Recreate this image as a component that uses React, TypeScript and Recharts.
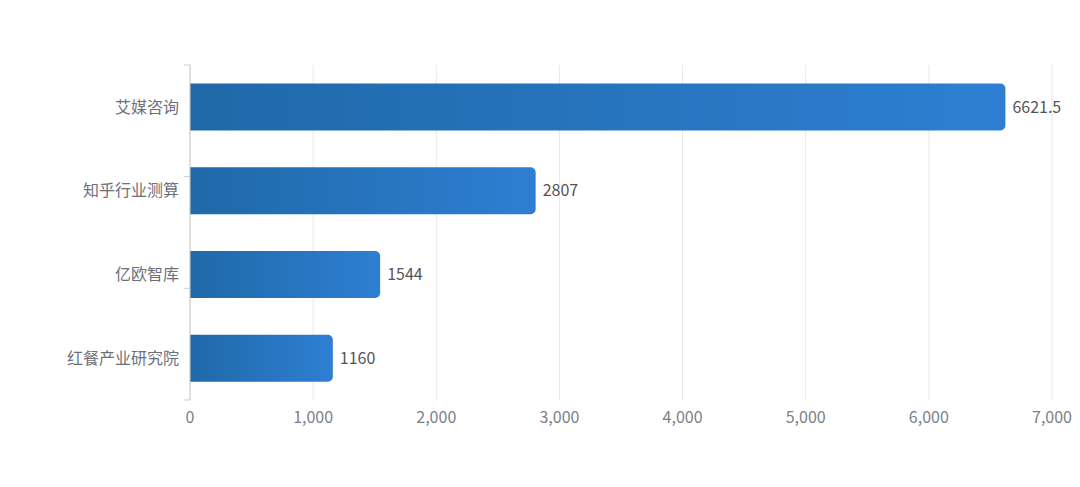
import React from 'react';
import { BarChart, Bar, XAxis, YAxis, CartesianGrid, LabelList } from 'recharts';

const categories = ['艾媒咨询', '知乎行业测算', '亿欧智库', '红餐产业研究院'];
const values = [6621.5, 2807, 1544, 1160];
const xTicks = [0, 1000, 2000, 3000, 4000, 5000, 6000, 7000];
const boundaryTicks = [0, 1, 2, 3, 4];

const data = categories.map((name, i) => ({ name, value: values[i] }));

const FONT = '"Microsoft YaHei", "Noto Sans CJK SC", "Noto Sans", sans-serif';

export default function App() {
  return (
    <div style={{ position: 'absolute', left: 0, top: 0, width: 1080, height: 487, background: '#fff' }}>
      <BarChart
        width={1080}
        height={487}
        data={data}
        layout="vertical"
        margin={{ top: 65, right: 28, bottom: 57, left: 0 }}
        barCategoryGap="22%"
        style={{ fontFamily: FONT }}
      >
        <defs>
          <linearGradient id="barGrad" x1="0" y1="0" x2="1" y2="0">
            <stop offset="0%" stopColor="#1f69a8" />
            <stop offset="100%" stopColor="#2e7fd3" />
          </linearGradient>
        </defs>
        <CartesianGrid horizontal={false} stroke="#e8e8e4" strokeWidth={1} />
        <XAxis
          type="number"
          domain={[0, 7000]}
          ticks={xTicks}
          tickFormatter={(v: number) => v.toLocaleString('en-US')}
          axisLine={false}
          tickLine={false}
          height={30}
          tick={{ fill: '#7b7f88', fontSize: 16, fontFamily: FONT }}
          tickMargin={6}
          interval={0}
        />
        <YAxis
          yAxisId="bound"
          type="number"
          domain={[0, 4]}
          ticks={boundaryTicks}
          width={1}
          interval={0}
          tickFormatter={() => ''}
          tickSize={6}
          tickLine={{ stroke: '#cfccc4' }}
          axisLine={{ stroke: '#cfccc4' }}
        />
        <YAxis
          yAxisId="cat"
          type="category"
          dataKey="name"
          width={189}
          axisLine={false}
          tickLine={false}
          tickMargin={4}
          tick={{ fill: '#6e7079', fontSize: 16, fontFamily: FONT }}
        />
        <Bar
          yAxisId="cat"
          dataKey="value"
          fill="url(#barGrad)"
          radius={[0, 5, 5, 0]}
          isAnimationActive={false}
        >
          <LabelList
            dataKey="value"
            position="right"
            offset={7}
            fill="#555"
            fontSize={16}
            fontFamily={FONT}
          />
        </Bar>
      </BarChart>
    </div>
  );
}
